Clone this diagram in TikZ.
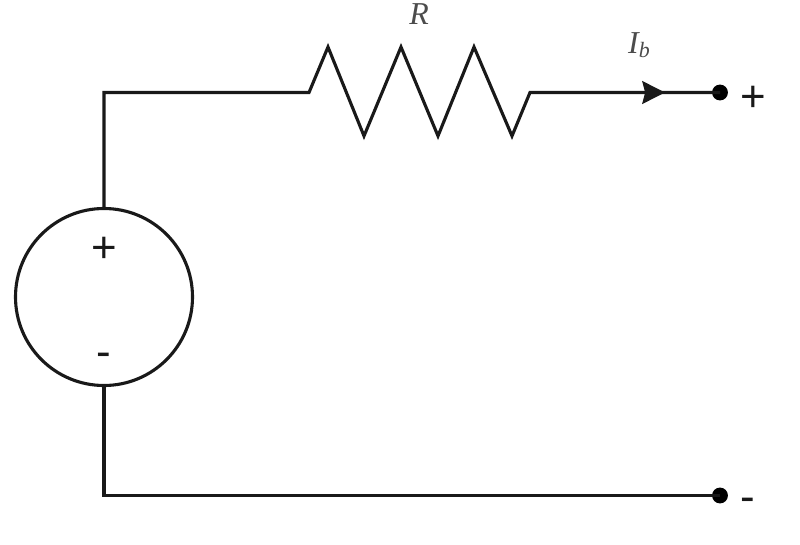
\documentclass[tikz,border=0pt]{standalone}
\usetikzlibrary{arrows.meta}
\usepackage{fontspec}
\setsansfont{Liberation Sans}
\setmainfont{Liberation Serif}
\tikzset{wire/.style={line width=0.11cm,color=black!90},
  term/.style={circle,fill=black,inner sep=0pt,minimum size=0.56cm},
  sign/.style={inner sep=0pt,font=\sffamily\fontsize{44}{44}\selectfont,text=black!90},
  lbl/.style={inner sep=0pt,font=\itshape\fontsize{32}{32}\selectfont,text=black!70}}
\begin{document}
\begin{tikzpicture}[x=0.0352778cm,y=-0.0352778cm]
\useasboundingbox (0,0) rectangle (800,545);
\node[draw,wire,circle,inner sep=0pt,minimum size=177*0.0352778cm] (src) at (104,297) {};
\node[sign] (splus) at (104,250) {+};
\node[sign] (sminus) at (104,360) {-};
\node[lbl] (rlabel) at (419,14) {R};
\node[lbl] (ilabel) at (639,45) {I\raisebox{-0.25ex}{\fontsize{22}{22}\selectfont b}};
\node[term] (topterm) at (720,92.5) {};
\node[term] (botterm) at (720,495.5) {};
\node[sign] (tplus) at (753,99) {+};
\node[sign] (tminus) at (748,505) {-};
\coordinate (tl) at (104,92.5);
\coordinate (bl) at (104,495.5);
\coordinate (arrstart) at (600,92.5);
\coordinate (arr) at (665,92.5);
% resistor
\draw[wire,line join=miter] (src.north) -- (tl) -- (309,92.5) -- (328,47) -- (364,136) -- (401,47) -- (438,136) -- (474,47) -- (512,136) -- (530,92.5) -- (topterm.center);
\draw[wire] (src.south) -- (bl) -- (botterm.center);
\draw[wire,-{Stealth[length=0.8cm,width=0.8cm,inset=0.1cm]}] (arrstart) -- (arr);
\end{tikzpicture}
\end{document}
